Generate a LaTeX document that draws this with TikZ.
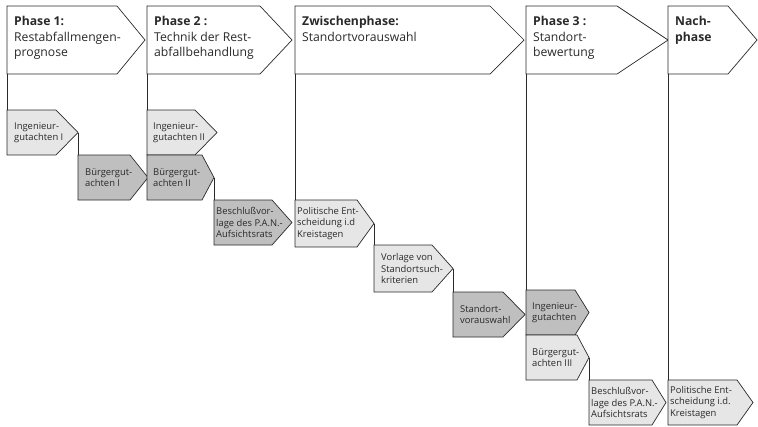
\documentclass[tikz,border=0pt]{standalone}
\usepackage{fontspec}
\setmainfont{Open Sans}
\definecolor{lightfill}{HTML}{E6E6E6}
\definecolor{darkfill}{HTML}{BFBFBF}
\definecolor{inkc}{HTML}{2A2A2A}
\tikzset{
  outline/.style={draw=inkc, line width=0.7pt, line join=miter},
  headtext/.style={anchor=north west, align=left, inner sep=0pt, text=inkc,
    font=\fontsize{12.2}{15.5}\selectfont},
  tasktext/.style={anchor=west, align=left, inner sep=0pt, text=inkc,
    font=\fontsize{9.4}{11.2}\selectfont},
  link/.style={draw=inkc, line width=0.7pt},
}
% phase header: name, left, top, bottom, shoulder, tip, text
\newcommand{\phasechev}[7]{%
  \path[outline, fill=white] (#2,#3) -- (#5,#3) -- (#6,{(#3+#4)/2}) -- (#5,#4) -- (#2,#4) -- cycle;
  \coordinate (#1-sw) at (#2,#4);
  \node[headtext] (#1) at ({#2+7},{#3+10.5}) {#7};
}
% task arrow: name, left, top, bottom, shoulder, tip, fill, text inset, text
\newcommand{\taskchev}[9]{%
  \path[outline, fill=#7] (#2,#3) -- (#5,#3) -- (#6,{(#3+#4)/2}) -- (#5,#4) -- (#2,#4) -- cycle;
  \coordinate (#1-nw) at (#2,#3);
  \coordinate (#1-tip) at (#6,{(#3+#4)/2});
  \node[tasktext] (#1) at ({#2+#8},{(#3+#4)/2}) {#9};
}
\begin{document}
\begin{tikzpicture}[x=1pt, y=-1pt]
\useasboundingbox (0,0) rectangle (758,426);

% phase headers
\phasechev{ph1}{7}{6}{74}{117}{145}{\textbf{Phase 1:}\\Restabfallmengen-\\prognose}
\phasechev{ph2}{147}{6}{74}{260}{292}{\textbf{Phase 2 :}\\Technik der Rest-\\abfallbehandlung}
\phasechev{phz}{295}{6}{74}{490}{524}{\textbf{Zwischenphase:}\\Standortvorauswahl}
\phasechev{ph3}{526}{6}{74}{617}{668}{\textbf{Phase 3 :}\\Standort-\\bewertung}
\phasechev{phn}{668}{6}{74}{728}{757}{\textbf{Nach-}\\\textbf{phase}}

% tasks
\taskchev{ig1}{7}{110}{155}{56}{78}{lightfill}{7}{Ingenieur-\\gutachten I}
\taskchev{bg1}{78}{155}{200}{130}{148}{darkfill}{7}{Bürgergut-\\achten I}
\taskchev{ig2}{147}{110}{155}{195}{217}{lightfill}{6}{Ingenieur-\\gutachten II}
\taskchev{bg2}{147}{155}{200}{202}{214}{darkfill}{6}{Bürgergut-\\achten II}
\taskchev{bv1}{214}{200}{245}{272}{292}{darkfill}{2}{Beschlußvor-\\lage des P.A.N.-\\Aufsichtsrats}
\taskchev{pe1}{295}{200}{247}{357}{374}{lightfill}{2}{Politische Ent-\\scheidung i.d\\Kreistagen}
\taskchev{vs}{374}{245}{292}{432}{453}{lightfill}{7}{Vorlage von\\Standortsuch-\\kriterien}
\taskchev{sv}{453}{292}{337}{503}{525}{darkfill}{7}{Standort-\\vorauswahl}
\taskchev{ig3}{526}{290}{335}{575}{589}{darkfill}{6}{Ingenieur-\\gutachten}
\taskchev{bg3}{526}{335}{380}{577}{589}{lightfill}{6}{Bürgergut-\\achten III}
\taskchev{bv2}{589}{380}{425}{652}{666}{lightfill}{2}{Beschlußvor-\\lage des P.A.N.-\\Aufsichtsrats}
\taskchev{pe2}{668}{380}{425}{737}{753}{lightfill}{2}{Politische Ent-\\scheidung i.d.\\Kreistagen}

% phase lines down to the first task of each phase
\path[link] (ph1-sw) -- (ig1-nw);
\path[link] (ph2-sw) -- (ig2-nw);
\path[link] (phz-sw) -- (pe1-nw);
\path[link] (ph3-sw) -- (ig3-nw);
\path[link] (phn-sw) -- (pe2-nw);

% step links between successive tasks
\path[link] (ig1-tip) -- (bg1-nw);
\path[link] (bg2-tip) -- (bv1-nw);
\path[link] (pe1-tip) -- (vs-nw);
\path[link] (vs-tip) -- (sv-nw);
\path[link] (bg3-tip) -- (bv2-nw);
\end{tikzpicture}
\end{document}
